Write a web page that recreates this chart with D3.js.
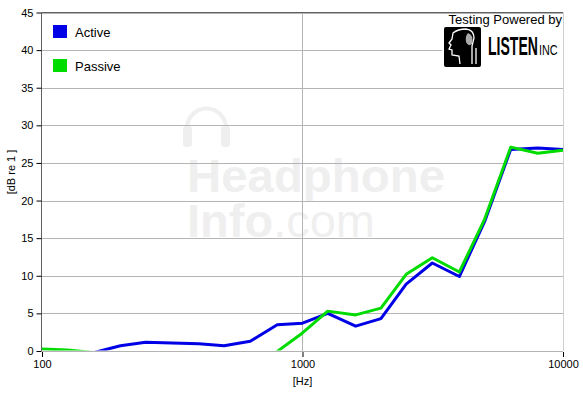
<!DOCTYPE html>
<html>
<head>
<meta charset="utf-8">
<script src="https://cdn.jsdelivr.net/npm/d3@7"></script>
<style>
  body { margin: 0; background: #fff; }
  text { font-family: "Liberation Sans", Arial, sans-serif; }
</style>
</head>
<body>
<div id="main"></div>
<script>
var ctx = {
    w: 583,
    h: 395,
    left: 42,
    right: 563,
    top: 12.5,
    bottom: 351,
};

// 1/3 octave centres
var freqs = [100, 125, 160, 200, 250, 315, 400, 500, 630, 800, 1000,
             1250, 1600, 2000, 2500, 3150, 4000, 5000, 6300, 8000, 10000];
var active = [-2.0, -1.0, -0.17, 0.7, 1.15, 1.05, 0.95, 0.7, 1.3, 3.5, 3.7,
              5.0, 3.3, 4.3, 8.9, 11.7, 9.9, 17.2, 26.8, 27.0, 26.8];
var passive = [0.25, 0.13, -0.22, -1.0, -2.0, -2.5, -3.0, -3.0, -2.5, -0.05, 2.4,
               5.3, 4.8, 5.7, 10.2, 12.4, 10.5, 17.5, 27.1, 26.3, 26.7];
var seriesNames = ["Active", "Passive"];
var seriesColors = ["#0000e6", "#00dc00"];
var yTicks = [0, 5, 10, 15, 20, 25, 30, 35, 40, 45];
var xTicks = [100, 1000, 10000];

var svg = d3.select("#main").append("svg")
    .attr("width", ctx.w)
    .attr("height", ctx.h);

var x = d3.scaleLog().domain([100, 10000]).range([ctx.left, ctx.right]);
var y = d3.scaleLinear().domain([0, 45]).range([ctx.bottom, ctx.top]);

// watermark
var wm = svg.append("g").attr("fill", "#efefef");
wm.append("path")
  .attr("d", "M187,142 L187,128 A19,19 0 0 1 226,128 L226,142")
  .attr("fill", "none").attr("stroke", "#efefef").attr("stroke-width", 4);
wm.append("rect").attr("x", 183).attr("y", 126).attr("width", 9).attr("height", 21).attr("rx", 3);
wm.append("rect").attr("x", 221).attr("y", 126).attr("width", 9).attr("height", 21).attr("rx", 3);
var wmText = wm.append("text").attr("x", 187).attr("y", 192).style("font-size", "47px");
wmText.append("tspan").style("font-weight", "bold")
      .attr("textLength", 258).attr("lengthAdjust", "spacingAndGlyphs").text("Headphone");
wmText.append("tspan").attr("x", 187).attr("dy", 45).style("font-weight", "bold").text("Info");
wmText.append("tspan").text(".com");

// grid
svg.append("g").selectAll("line")
   .data(yTicks)
   .enter().append("line")
   .attr("x1", ctx.left).attr("x2", ctx.right)
   .attr("y1", function(d){ return Math.round(y(d)) + 0.5; })
   .attr("y2", function(d){ return Math.round(y(d)) + 0.5; })
   .attr("stroke", "#b4b4b4");
svg.append("line")
   .attr("x1", Math.round(x(1000)) + 0.5).attr("x2", Math.round(x(1000)) + 0.5)
   .attr("y1", ctx.top).attr("y2", ctx.bottom)
   .attr("stroke", "#b4b4b4");
// frame
svg.append("line").attr("x1", ctx.right + 0.5).attr("x2", ctx.right + 0.5)
   .attr("y1", ctx.top).attr("y2", ctx.bottom).attr("stroke", "#d0d0d0");
svg.append("line").attr("x1", ctx.left).attr("x2", ctx.right)
   .attr("y1", 12.5).attr("y2", 12.5).attr("stroke", "#606060");

// curves, clipped to the plot
svg.append("clipPath").attr("id", "plotclip")
   .append("rect").attr("x", ctx.left).attr("y", ctx.top)
   .attr("width", ctx.right - ctx.left + 1).attr("height", ctx.bottom - ctx.top - 0.5);

var line = d3.line()
    .x(function(d){ return x(d[0]); })
    .y(function(d){ return y(d[1]); });

[active, passive].forEach(function(vals, i) {
    svg.append("path")
       .datum(freqs.map(function(f, j){ return [f, vals[j]]; }))
       .attr("clip-path", "url(#plotclip)")
       .attr("fill", "none")
       .attr("stroke", seriesColors[i])
       .attr("stroke-width", 3)
       .attr("stroke-linejoin", "round")
       .attr("d", line);
});

// axes
var yAxis = svg.append("g")
    .attr("transform", "translate(" + (ctx.left - 0.5) + ",0)")
    .call(d3.axisLeft(y).tickValues(yTicks).tickSize(5).tickPadding(3));
yAxis.select(".domain").attr("stroke", "#606060").attr("d", "M0," + ctx.top + "V" + ctx.bottom);
yAxis.selectAll("text").style("font-size", "11px").attr("fill", "#000")
     .style("font-family", "'Liberation Sans', Arial, sans-serif");

var xAxis = svg.append("g")
    .attr("transform", "translate(0," + (ctx.bottom + 1) + ")")
    .call(d3.axisBottom(x).tickValues(xTicks).tickFormat(d3.format("d")).tickSize(5).tickPadding(3));
xAxis.select(".domain").remove();
xAxis.selectAll("text").style("font-size", "11px").attr("fill", "#000")
     .style("font-family", "'Liberation Sans', Arial, sans-serif");

svg.append("text").attr("x", x(1000)).attr("y", 385)
   .attr("text-anchor", "middle").style("font-size", "11px").text("[Hz]");
svg.append("text")
   .attr("transform", "translate(15,172) rotate(-90)")
   .attr("text-anchor", "middle").style("font-size", "11px").text("[dB re 1 ]");

// legend
var legend = svg.append("g").selectAll("g")
    .data(seriesNames)
    .enter().append("g")
    .attr("transform", function(d, i){ return "translate(53," + (25 + i * 34) + ")"; });
legend.append("rect").attr("width", 14).attr("height", 13)
      .attr("fill", function(d, i){ return seriesColors[i]; });
legend.append("text").attr("x", 22).attr("y", 12)
      .style("font-size", "13px").text(function(d){ return d; });

// logo
var logo = svg.append("g");
logo.append("rect").attr("x", 442).attr("y", 26).attr("width", 121).attr("height", 42).attr("fill", "#fff");
logo.append("text").attr("x", 562).attr("y", 24).attr("text-anchor", "end")
    .style("font-size", "13px").text("Testing Powered by");
logo.append("rect").attr("x", 444).attr("y", 27).attr("width", 37).attr("height", 40).attr("rx", 2).attr("fill", "#000");
logo.append("path")
    .attr("d", "M460,64 L459,56 L452,55 L452,50 L449,49 L451,45 L449,43 L452,39 L453,33 Q458,29 466,29 Q474,30 474,38 L472,46 L472,64")
    .attr("fill", "none").attr("stroke", "#fff").attr("stroke-width", 1.3);
logo.append("path")
    .attr("d", "M468,33 Q474,35 472,44 Q468,47 466,42 Q465,36 468,33 Z")
    .attr("fill", "#aaa");
logo.append("path")
    .attr("d", "M476,64 L476,48").attr("stroke", "#fff").attr("stroke-width", 1.3);
// condensed brand lettering via horizontal scale
logo.append("text").attr("transform", "translate(488,55) scale(0.54,1)")
    .style("font-size", "26px").style("font-weight", "bold").text("LISTEN");
logo.append("text").attr("transform", "translate(539,55) scale(0.72,1)")
    .style("font-size", "15px").text("INC");
</script>
</body>
</html>
